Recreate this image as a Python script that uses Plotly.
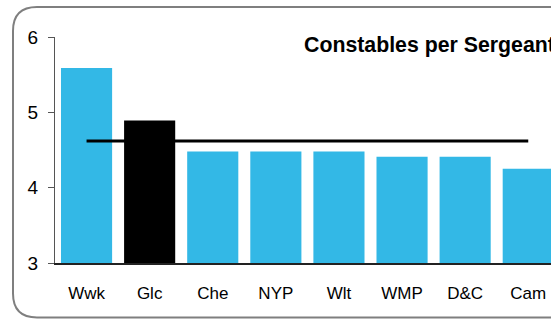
import plotly.graph_objects as go

categories = ["Wwk", "Glc", "Che", "NYP", "Wlt", "WMP", "D&C", "Cam"]
values = [5.59, 4.89, 4.48, 4.48, 4.48, 4.41, 4.41, 4.25]
bar_colors = ["#33b8e6", "#000000", "#33b8e6", "#33b8e6", "#33b8e6", "#33b8e6", "#33b8e6", "#33b8e6"]
average = 4.62
y_ticks = [3, 4, 5, 6]
title_text = "Constables per Sergeant"

W, H = 551, 326
L, R, T, B = 55, 0, 37, 62.5
pw = W - L - R
ph = H - T - B

def px(x):
    return (x - L) / pw

def py(y):
    return (H - B - y) / ph

fig = go.Figure()
fig.add_trace(go.Bar(x=categories, y=values, marker=dict(color=bar_colors, line=dict(width=0)),
                     width=0.81, hoverinfo="skip"))
fig.add_trace(go.Scatter(x=[categories[0], categories[-1]], y=[average, average], mode="lines",
                         line=dict(color="#000000", width=3), hoverinfo="skip"))

# rounded frame, cropped on the right
xl, xr, yt, yb, r = 13, 620, 7, 318, 24
path = (f"M {px(xr)},{py(yt)} L {px(xl + r)},{py(yt)} Q {px(xl)},{py(yt)} {px(xl)},{py(yt + r)} "
        f"L {px(xl)},{py(yb - r)} Q {px(xl)},{py(yb)} {px(xl + r)},{py(yb)} L {px(xr)},{py(yb)}")
fig.add_shape(type="path", path=path, xref="paper", yref="paper",
              line=dict(color="#7f7f7f", width=2))

fig.add_annotation(text=f"<b>{title_text}</b>", x=px(302), y=py(45), xref="paper", yref="paper",
                   xanchor="left", yanchor="middle", showarrow=False,
                   font=dict(family="Liberation Sans, Arial", size=21.3, color="#000000"))

fig.update_layout(
    width=W, height=H, margin=dict(l=L, r=R, t=T, b=B),
    paper_bgcolor="white", plot_bgcolor="white", showlegend=False,
    font=dict(family="Liberation Sans, Arial", color="#000000"),
    bargap=0.19,
)
fig.update_xaxes(range=[-0.5, -0.5 + pw / 63.1], showgrid=False, zeroline=False,
                 showline=True, linecolor="#222222", linewidth=1.5, ticks="",
                 tickfont=dict(size=17), ticklabelstandoff=14, fixedrange=True)
fig.update_yaxes(range=[3, 6], tickvals=y_ticks, showgrid=False, zeroline=False,
                 showline=True, linecolor="#555555", linewidth=1, ticks="outside",
                 ticklen=6, tickcolor="#555555", tickfont=dict(size=19),
                 ticklabelstandoff=6, fixedrange=True)

fig.write_html("out.html", config={"displayModeBar": False},
               post_script="document.body.style.margin='0';document.body.style.overflow='hidden';")
